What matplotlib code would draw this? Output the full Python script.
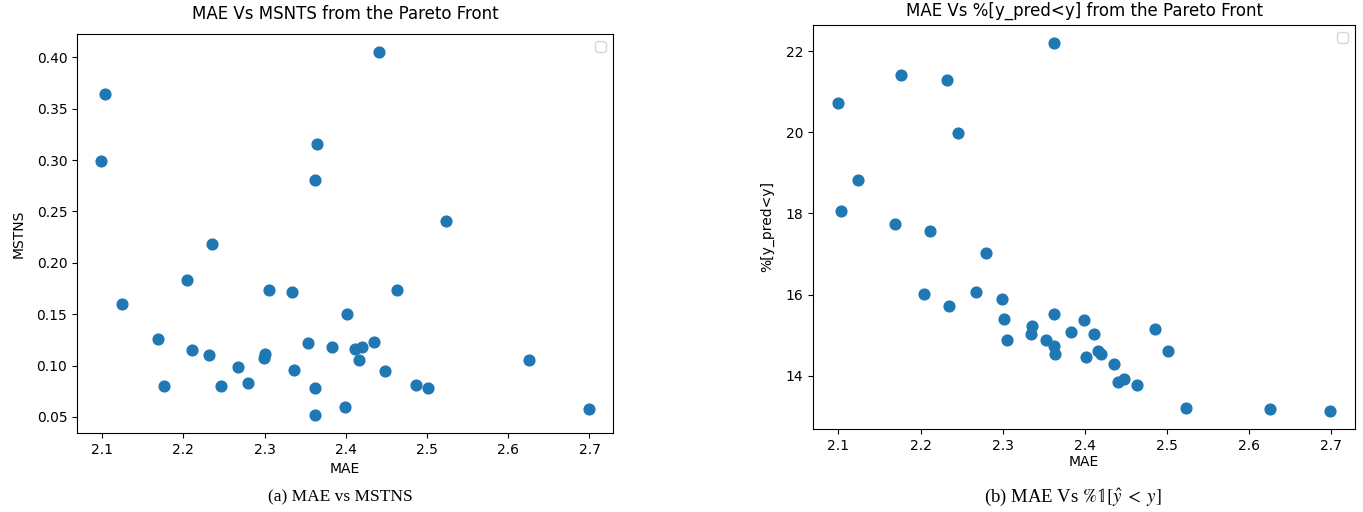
import matplotlib
matplotlib.use("Agg")
import matplotlib.pyplot as plt

# MAE of each Pareto-front solution (shared by both panels)
mae = [2.099, 2.103, 2.124, 2.169, 2.176, 2.204, 2.211, 2.232, 2.235, 2.246,
       2.267, 2.280, 2.299, 2.301, 2.305, 2.334, 2.336, 2.353, 2.362, 2.362,
       2.362, 2.364, 2.383, 2.399, 2.401, 2.411, 2.416, 2.420, 2.435, 2.441,
       2.448, 2.463, 2.486, 2.501, 2.523, 2.625, 2.699]

mstns = [0.299, 0.364, 0.160, 0.126, 0.080, 0.183, 0.115, 0.110, 0.218, 0.080,
         0.099, 0.083, 0.107, 0.111, 0.174, 0.172, 0.096, 0.122, 0.281, 0.078,
         0.052, 0.316, 0.118, 0.060, 0.150, 0.116, 0.105, 0.118, 0.123, 0.405,
         0.095, 0.174, 0.081, 0.078, 0.241, 0.105, 0.058]

pct_under = [20.71, 18.07, 18.83, 17.75, 21.41, 16.01, 17.56, 21.28, 15.71, 19.99,
             16.06, 17.03, 15.89, 15.40, 14.89, 15.03, 15.22, 14.89, 14.74, 22.19,
             15.51, 14.54, 15.08, 15.37, 14.46, 15.03, 14.60, 14.54, 14.28, 13.85,
             13.91, 13.77, 15.16, 14.60, 13.20, 13.18, 13.14]

plt.rcParams["font.size"] = 10
plt.rcParams["mathtext.fontset"] = "stix"

fig = plt.figure(figsize=(13.63, 5.12), dpi=100)

W, H = 1363, 512
ax1 = fig.add_axes([77 / W, 1 - 433 / H, (613 - 77) / W, (433 - 34) / H])
ax2 = fig.add_axes([813 / W, 1 - 429 / H, (1355 - 813) / W, (429 - 25) / H])

# left panel
ax1.scatter(mae, mstns, s=60, color="#1f77b4")
ax1.set_title("MAE Vs MSNTS from the Pareto Front", fontsize=12, pad=11)
ax1.set_xlabel("MAE")
ax1.set_ylabel("MSTNS", labelpad=8)
ax1.legend(handles=[], labels=[])

# right panel
ax2.scatter(mae, pct_under, s=60, color="#1f77b4")
ax2.set_title("MAE Vs %[y_pred<y] from the Pareto Front", fontsize=12, pad=7)
ax2.set_xlabel("MAE", labelpad=2)
ax2.set_ylabel("%[y_pred<y]", labelpad=8)
ax2.legend(handles=[], labels=[])

# captions under each panel
fig.text(340 / W, 1 - 497 / H, "(a) MAE vs MSTNS", ha="center", va="center",
         fontsize=12.5, family="Liberation Serif")
fig.text(1073 / W, 1 - 497 / H, r"(b) MAE Vs $\%\mathbb{1}[\hat{y}\;<\;y]$",
         ha="center", va="center", fontsize=13.5, family="Liberation Serif")

fig.savefig("out.png", dpi=100)
